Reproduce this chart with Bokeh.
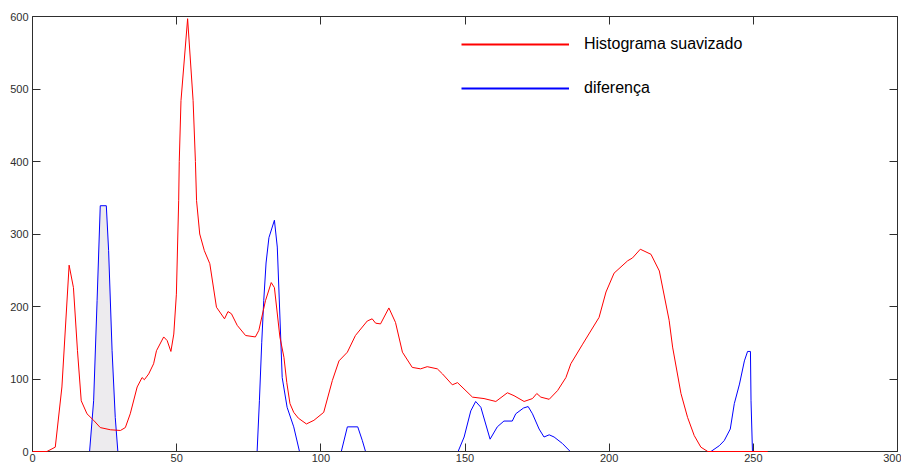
import math
from bokeh.plotting import figure
from bokeh.models import LinearAxis, Legend, LegendItem, FixedTicker, CustomJSTickFormatter
from bokeh.embed import file_html
from bokeh.resources import INLINE

NaN = float("nan")

# Smoothed histogram (red)
hist_x = [0, 5, 7.9, 10.2, 12.7, 14.2, 15.6, 16.9, 18.9, 21.2, 23.5, 27, 30.5, 32.2, 33.9,
          36.3, 38, 38.8, 40.3, 42, 43, 45.5, 46.7, 48, 49, 49.9, 50.7, 50.9, 51.5, 53.8,
          55.7, 56.5, 56.9, 58, 59.6, 61.5, 63.8, 66.6, 67.8, 69, 71, 73.9, 77.3, 78.5,
          80.8, 82.8, 83.9, 85.8, 87.2, 88.2, 89.3, 90.6, 92.2, 95, 97.6, 101, 104, 106.3,
          109.2, 112, 116.1, 117.8, 119, 120.7, 123.6, 125.9, 128.3, 131.7, 134.6, 136.9,
          140.4, 142.2, 145.6, 147.4, 152.6, 156.6, 160.7, 164.7, 167, 170.5, 173.4, 174.9,
          176.3, 179.2, 182.1, 185, 186.7, 190.8, 196.5, 198.9, 201.7, 206.4, 208.1, 210.8,
          214.5, 217.4, 220.8, 222, 224.9, 227.2, 229.5, 231.8, 234.2, 255]
hist_y = [0, 0, 6, 89, 257, 226, 139, 70, 52, 43, 33, 30, 29, 33, 52,
          89, 102, 99, 107, 121, 139, 158, 153, 138, 162, 217, 346, 400, 484, 597,
          484, 400, 346, 300, 277, 259, 199, 183, 193, 190, 174, 160, 158, 167,
          208, 233, 226, 158, 130, 95, 66, 54, 46, 38, 43, 54, 98, 125,
          137, 160, 180, 183, 177, 176, 198, 178, 137, 116, 114, 117,
          114, 107, 92, 95, 75, 73, 69, 81, 77, 69, 73, 80,
          75, 72, 84, 102, 121, 148, 185, 220, 246, 263, 267, 279,
          272, 249, 181, 144, 80, 47, 22, 6, 0, 0]

# Difference (blue), segments separated by NaN
diff_x = [19.8, 21.2, 22.4, 23.5, 25.6, 26.4, 27.6, 28.7, 29.6, NaN,
          77.9, 78.7, 79.5, 80.2, 81, 82, 83.9, 84.9, 86.6, 88.3, 90.6, 92.6, NaN,
          107.1, 109.2, 112.8, 114.4, 115.5, NaN,
          147.6, 149.7, 152, 153.7, 155.5, 158.7, 161.2, 163.5, 166.4, 167.6, 170.3, 171.9,
          173.4, 175.7, 177.4, 179.2, 180.9, 183.8, 186.5, NaN,
          235.3, 238.2, 239.9, 242, 243.4, 245.2, 246.9, 248, 249, 249.2, 249.7]
diff_y = [0, 70, 208, 339, 339, 277, 139, 47, 0, NaN,
          0, 70, 150, 208, 260, 295, 319, 282, 102, 61, 34, 0, NaN,
          0, 34, 34, 15, 0, NaN,
          0, 20, 56, 69, 61, 17, 34, 42, 42, 52, 60, 62,
          52, 31, 20, 23, 20, 11, 0, NaN,
          0, 8, 15, 31, 66, 93, 125, 138, 138, 70, 0]

# Shaded first peak of the difference
shade_x = [19.8, 21.2, 22.4, 23.5, 25.6, 26.4, 27.6, 28.7, 29.6]
shade_y = [0, 70, 208, 339, 339, 277, 139, 47, 0]

x_ticks = [0, 50, 100, 150, 200, 250, 300]
y_ticks = [0, 100, 200, 300, 400, 500, 600]

p = figure(width=901, height=466, output_backend="svg", toolbar_location=None,
           x_range=(0, 300), y_range=(0, 600),
           min_border_left=32, min_border_right=4, min_border_top=16, min_border_bottom=15,
           x_axis_location=None, y_axis_location=None)
p.outline_line_color = None
p.xgrid.visible = False
p.ygrid.visible = False
p.background_fill_color = "white"
p.border_fill_color = "white"

AX_COL = "#2e2e2e"

def style_axis(ax, ticks, labels=True):
    ax.ticker = FixedTicker(ticks=ticks)
    ax.major_tick_in = 8
    ax.major_tick_out = 0
    ax.minor_tick_line_color = None
    ax.axis_line_color = AX_COL
    ax.major_tick_line_color = AX_COL
    if labels:
        ax.major_label_text_font = "Liberation Sans"
        ax.major_label_text_font_size = "11px"
        ax.major_label_text_color = AX_COL
    else:
        ax.formatter = CustomJSTickFormatter(code="return '';")
        ax.major_label_standoff = 0

bottom = LinearAxis()
style_axis(bottom, x_ticks)
bottom.major_label_standoff = 2
p.add_layout(bottom, "below")

left = LinearAxis()
style_axis(left, y_ticks)
left.major_label_standoff = 4
p.add_layout(left, "left")

top = LinearAxis()
style_axis(top, x_ticks, labels=False)
p.add_layout(top, "above")

right = LinearAxis()
style_axis(right, y_ticks, labels=False)
p.add_layout(right, "right")

p.varea(x=shade_x, y1=[0] * len(shade_x), y2=shade_y, fill_color="#EDEBEE")
r_hist = p.line(hist_x, hist_y, line_color="#FF0000", line_width=1)
r_diff = p.line(diff_x, diff_y, line_color="#0000FF", line_width=1)
r_hist.level = "annotation"

# legend-only renderers (thicker sample lines), nothing drawn in the plot
leg_red = p.line(x=[NaN], y=[NaN], line_color="#FF0000", line_width=2)
leg_blue = p.line(x=[NaN], y=[NaN], line_color="#0000FF", line_width=2)

legend = Legend(items=[LegendItem(label="Histograma suavizado", renderers=[leg_red]),
                       LegendItem(label="diferença", renderers=[leg_blue])],
                location=(429, 353), orientation="vertical",
                border_line_color=None, background_fill_alpha=0,
                padding=0, margin=0, glyph_width=108, glyph_height=20,
                label_height=20, label_standoff=15, spacing=24,
                label_text_font="Liberation Sans", label_text_font_size="16px",
                label_text_color="black")
p.add_layout(legend)

open("out.html", "w").write(file_html(p, INLINE))
